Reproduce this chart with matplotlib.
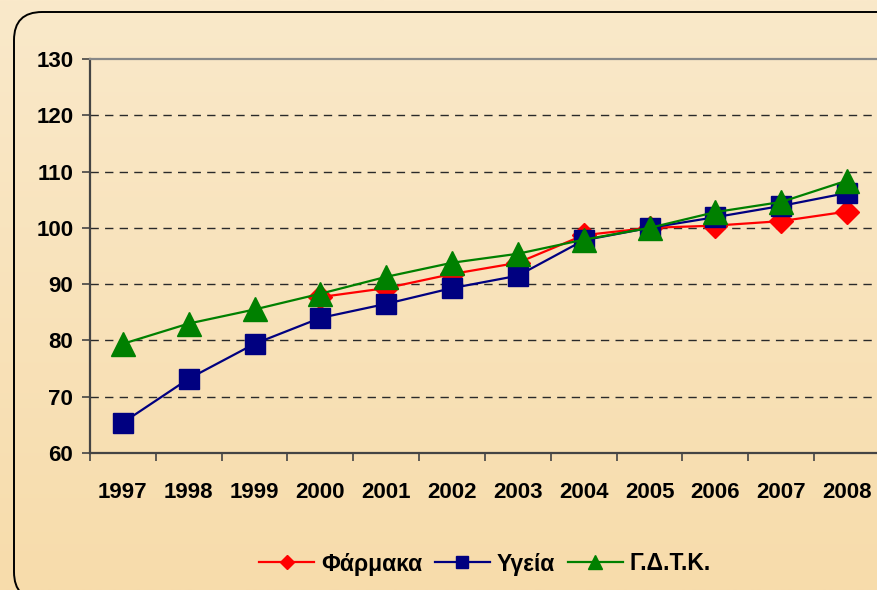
import matplotlib
matplotlib.use('Agg')
import matplotlib.pyplot as plt
import numpy as np
from matplotlib.patches import FancyBboxPatch
from matplotlib.colors import LinearSegmentedColormap

years = ['1997', '1998', '1999', '2000', '2001', '2002', '2003', '2004', '2005', '2006', '2007', '2008']
farmaka = [np.nan, np.nan, np.nan, 87.7, 89.3, 91.8, 93.8, 98.7, 100.0, 100.4, 101.2, 102.9]
ygeia = [65.4, 73.2, 79.4, 84.0, 86.5, 89.3, 91.5, 97.8, 100.0, 101.9, 103.9, 106.2]
gdtk = [79.4, 83.0, 85.5, 88.3, 91.3, 93.8, 95.4, 97.9, 100.0, 102.8, 104.6, 108.4]
series_names = ['Φάρμακα', 'Υγεία', 'Γ.Δ.Τ.Κ.']
yticks = [60, 70, 80, 90, 100, 110, 120, 130]

FONT = ['Liberation Sans', 'DejaVu Sans']
plt.rcParams['font.family'] = FONT
plt.rcParams['font.weight'] = 'bold'

W, H = 878, 590
fig = plt.figure(figsize=(W / 100, H / 100), dpi=100)

# background gradient
bg = fig.add_axes([0, 0, 1, 1], zorder=-10)
cmap = LinearSegmentedColormap.from_list('bg', ['#FAE9CA', '#F7DCAB'])
grad = np.linspace(0, 1, 256).reshape(-1, 1)
bg.imshow(grad, aspect='auto', cmap=cmap, extent=[0, 1, 0, 1], origin='upper')
bg.set_xlim(0, 1)
bg.set_ylim(0, 1)
bg.axis('off')

# rounded frame (cropped at right and bottom)
frame_bottom = 600
frame = FancyBboxPatch((14 / W, (H - frame_bottom) / H), 1000 / W, (frame_bottom - 12) / H,
                       boxstyle='round,pad=0,rounding_size=0.032',
                       transform=fig.transFigure, fill=False, ec='black', lw=1.4,
                       mutation_aspect=W / H)
fig.patches.append(frame)

left, right, top, bottom = 90, 880, 59, 453
ax = fig.add_axes([left / W, 1 - bottom / H, (right - left) / W, (bottom - top) / H])
ax.patch.set_alpha(0)

x = np.arange(len(years))
ax.plot(x, farmaka, color='#FF0000', lw=1.6, marker='D', ms=12, mec='#FF0000', label=series_names[0], zorder=3)
ax.plot(x, ygeia, color='#000080', lw=1.6, marker='s', ms=15, mec='#000080', label=series_names[1], zorder=4)
ax.plot(x, gdtk, color='#008000', lw=1.6, marker='^', ms=17, mec='#008000', label=series_names[2], zorder=5)

ax.set_xlim(-0.5, len(years) - 0.5)
ax.set_ylim(60, 130)
ax.set_yticks(yticks)
ax.set_yticklabels([str(v) for v in yticks])
for v in yticks[1:-1]:
    ax.axhline(v, color='#2a2a2a', lw=1.0, ls=(0, (6, 4.5)), zorder=1)

ax.set_xticks(np.arange(-0.5, len(years), 1.0))
ax.set_xticklabels([])
ax.set_xticks(x, minor=True)
ax.set_xticklabels(years, minor=True)
ax.tick_params(axis='x', which='major', length=6, width=1.2, color='#444444', direction='out')
ax.tick_params(axis='x', which='minor', length=0, pad=21, labelsize=16)
ax.tick_params(axis='y', length=6, width=1.2, color='#444444', direction='out', labelsize=16, pad=6)
for lab in ax.get_xticklabels(minor=True) + ax.get_yticklabels():
    lab.set_fontweight('bold')

ax.spines['left'].set_color('#444444')
ax.spines['left'].set_linewidth(1.6)
ax.spines['bottom'].set_color('#444444')
ax.spines['bottom'].set_linewidth(1.6)
ax.spines['top'].set_color('#888888')
ax.spines['top'].set_linewidth(1.6)
ax.spines['right'].set_visible(False)

handles, labels = ax.get_legend_handles_labels()
leg = fig.legend(handles, labels, loc='center', bbox_to_anchor=(485 / W, 1 - 564 / H),
                 ncol=3, frameon=False, handlelength=2.4, handletextpad=0.3,
                 columnspacing=0.55, markerscale=0.62,
                 prop={'family': FONT, 'weight': 'bold', 'size': 16.5})

fig.savefig('out.png', dpi=100)
